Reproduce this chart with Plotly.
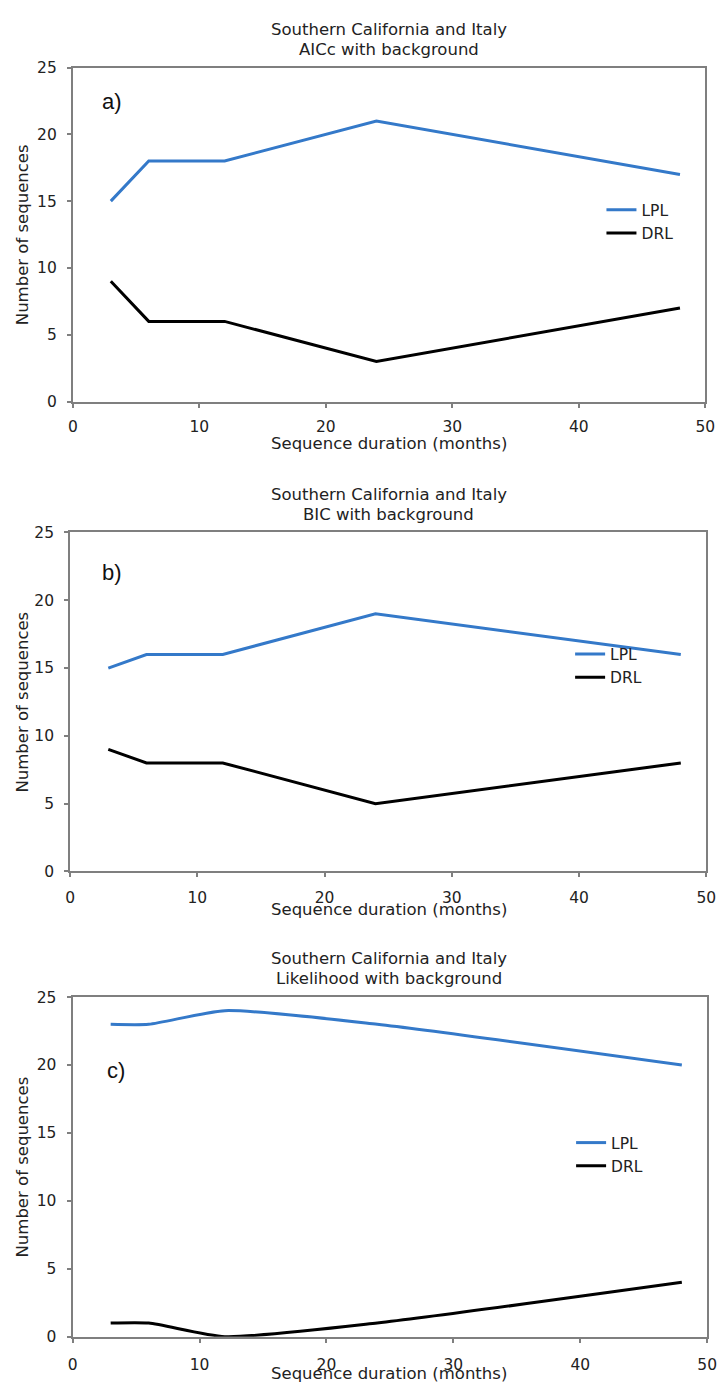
import plotly.graph_objects as go

# ---------------- data ----------------
months = [3, 6, 12, 24, 48]

lpl_a = [15, 18, 18, 21, 17]
drl_a = [9, 6, 6, 3, 7]

lpl_b = [15, 16, 16, 19, 16]
drl_b = [9, 8, 8, 5, 8]

lpl_c = [23, 23, 24, 23, 20]
drl_c = [1, 1, 0, 1, 4]

series_names = ["LPL", "DRL"]
panel_labels = ["a)", "b)", "c)"]
title_line1 = "Southern California and Italy"
title_line2 = ["AICc with background", "BIC with background", "Likelihood with background"]
x_title = "Sequence duration (months)"
y_title = "Number of sequences"

# ---------------- layout geometry (pixels) ----------------
W, H = 728, 1395
panels = [
    dict(l=69.3, r=715, t=59.3, b=397.7, title_y=(21, 41), xt_y=440, lab=(109, 94),
         leg=(609, 215.5), std=6, shape="linear"),
    dict(l=66.5, r=716, t=530.3, b=873.7, title_y=(492, 512), xt_y=912, lab=(109, 571),
         leg=(577, 665.5), std=7, shape="linear"),
    dict(l=69, r=717, t=1001, b=1345, title_y=(962, 982), xt_y=1382, lab=(113, 1075),
         leg=(578, 1160.5), std=9, shape="spline"),
]
data = [(lpl_a, drl_a), (lpl_b, drl_b), (lpl_c, drl_c)]

BLUE = "#3479c9"
AXC = "#7f7f7f"
FONT = "DejaVu Sans"
TXT = "#222222"


def fx(p):
    return p / W


def fy(p):
    return 1 - p / H


fig = go.Figure()
annotations = []
for i, (pg, (lpl, drl)) in enumerate(zip(panels, data)):
    n = "" if i == 0 else str(i + 1)
    xa, ya = "x" + n, "y" + n
    leg = "legend" + n
    for name, vals, col in [(series_names[0], lpl, BLUE), (series_names[1], drl, "black")]:
        fig.add_trace(go.Scatter(
            x=months, y=vals, name=name, mode="lines",
            line=dict(color=col, width=3, shape=pg["shape"], smoothing=0.6),
            xaxis=xa, yaxis=ya, legend=leg, showlegend=True,
        ))
    axis_common = dict(
        showline=True, linecolor=AXC, linewidth=2, mirror=True,
        ticks="outside", ticklen=4, tickwidth=1.5, tickcolor=AXC,
        showgrid=False, zeroline=False,
        tickfont=dict(family=FONT, size=15.5, color=TXT),
    )
    fig.layout["xaxis" + n] = dict(
        domain=[fx(pg["l"]), fx(pg["r"])], range=[0, 50], dtick=10, tick0=0,
        anchor=ya, ticklabelstandoff=pg["std"], **axis_common)
    fig.layout["yaxis" + n] = dict(
        domain=[fy(pg["b"]), fy(pg["t"])], range=[0, 25], dtick=5, tick0=0,
        anchor=xa, ticklabelstandoff=7, **axis_common)
    fig.layout[leg] = dict(
        x=fx(pg["leg"][0]), y=fy(pg["leg"][1]), xanchor="left", yanchor="middle",
        bgcolor="rgba(0,0,0,0)", font=dict(family=FONT, size=15.5, color=TXT),
        tracegroupgap=0, itemwidth=30,
    )
    # two-line title
    for txt, ty in zip([title_line1, title_line2[i]], pg["title_y"]):
        annotations.append(dict(
            x=fx(392), y=fy(ty), xref="paper", yref="paper",
            text=txt, showarrow=False, xanchor="center", yanchor="middle",
            font=dict(family=FONT, size=16.5, color=TXT)))
    annotations.append(dict(
        x=fx(392), y=fy(pg["xt_y"]), xref="paper", yref="paper",
        text=x_title, showarrow=False, xanchor="center", yanchor="middle",
        font=dict(family=FONT, size=16.5, color=TXT)))
    annotations.append(dict(
        x=fx(18), y=fy((pg["t"] + pg["b"]) / 2), xref="paper", yref="paper",
        text=y_title, showarrow=False, textangle=-90, xanchor="center", yanchor="middle",
        font=dict(family=FONT, size=16.5, color=TXT)))
    annotations.append(dict(
        x=fx(pg["lab"][0]), y=fy(pg["lab"][1]), xref="paper", yref="paper",
        text=panel_labels[i], showarrow=False, xanchor="center", yanchor="middle",
        font=dict(family="Liberation Sans", size=22, color="#111111")))

fig.update_layout(
    width=W, height=H, margin=dict(l=0, r=0, t=0, b=0),
    paper_bgcolor="white", plot_bgcolor="white",
    annotations=annotations,
)
fig.write_html(
    "out.html",
    config={"displayModeBar": False},
    post_script="document.body.style.margin='0px';document.body.style.overflow='hidden';",
)
